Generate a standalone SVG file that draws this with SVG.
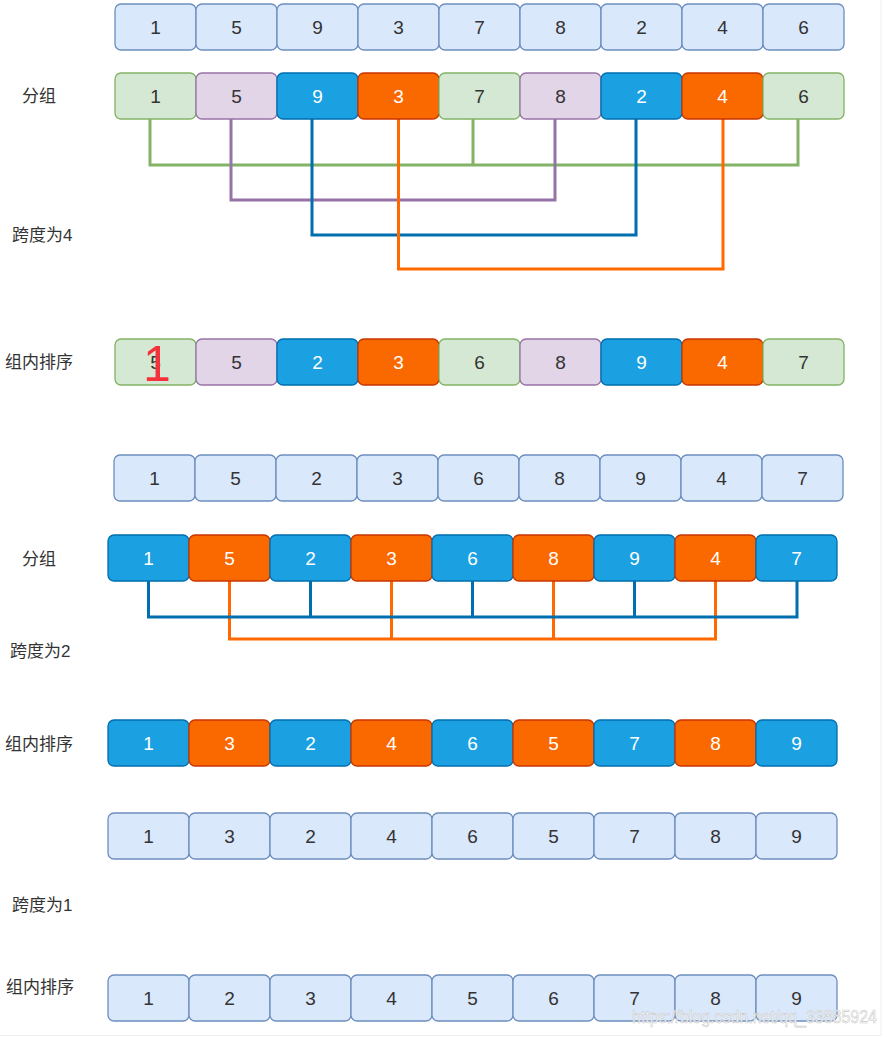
<svg xmlns="http://www.w3.org/2000/svg" width="887" height="1037" viewBox="0 0 887 1037">
<style>
rect.n{width:81px;height:46px;stroke-width:1.3}
.lb{fill:#dae8fc;stroke:#6c8ebf}
.g{fill:#d5e8d4;stroke:#82b366}
.p{fill:#e1d5e7;stroke:#9673a6}
.b{fill:#1ba1e2;stroke:#006eaf}
.o{fill:#fa6800;stroke:#c73500}
text.v{font-family:"Liberation Sans",Arial,sans-serif;font-size:19px;text-anchor:middle;fill:#333}
text.w{fill:#ffffff}
text.lab{font-family:"Liberation Sans","Noto Sans CJK SC",sans-serif;font-size:17px;fill:#333}
.c{fill:none;stroke-width:3}
</style>
<rect width="887" height="1037" fill="#ffffff"/>
<line x1="881" y1="0" x2="881" y2="1036" stroke="#f0f0f0" stroke-width="1"/>
<line x1="0" y1="1035.5" x2="881" y2="1035.5" stroke="#f0f0f0" stroke-width="1"/>

<g id="connectors">
  <path class="c" stroke="#82b366" d="M150,119V165H798V119M473,119V165"/>
  <path class="c" stroke="#9673a6" d="M231,119V200H555V119"/>
  <path class="c" stroke="#006eaf" d="M312,119V235H636V119"/>
  <path class="c" stroke="#ff6a00" d="M398.5,119V269H723V119"/>
  <path class="c" stroke="#ff6a00" d="M229.5,581V639H715.5V581M391.5,581V639M553.5,581V639"/>
  <path class="c" stroke="#006eaf" d="M148.5,581V617H797V581M310.5,581V617M472.5,581V617M634.5,581V617"/>
</g>

<g id="labels">
  <text class="lab" x="22" y="102">分组</text>
  <text class="lab" x="12" y="241">跨度为4</text>
  <text class="lab" x="5" y="368">组内排序</text>
  <text class="lab" x="22" y="565">分组</text>
  <text class="lab" x="10" y="657">跨度为2</text>
  <text class="lab" x="5" y="750">组内排序</text>
  <text class="lab" x="12" y="911">跨度为1</text>
  <text class="lab" x="6" y="993">组内排序</text>
</g>

<g id="row1" transform="translate(115,4)">
  <g id="r1n1"><rect class="n lb" x="0" y="0" rx="6"/><text class="v" x="40.5" y="30">1</text></g>
  <g id="r1n2"><rect class="n lb" x="81" y="0" rx="6"/><text class="v" x="121.5" y="30">5</text></g>
  <g id="r1n3"><rect class="n lb" x="162" y="0" rx="6"/><text class="v" x="202.5" y="30">9</text></g>
  <g id="r1n4"><rect class="n lb" x="243" y="0" rx="6"/><text class="v" x="283.5" y="30">3</text></g>
  <g id="r1n5"><rect class="n lb" x="324" y="0" rx="6"/><text class="v" x="364.5" y="30">7</text></g>
  <g id="r1n6"><rect class="n lb" x="405" y="0" rx="6"/><text class="v" x="445.5" y="30">8</text></g>
  <g id="r1n7"><rect class="n lb" x="486" y="0" rx="6"/><text class="v" x="526.5" y="30">2</text></g>
  <g id="r1n8"><rect class="n lb" x="567" y="0" rx="6"/><text class="v" x="607.5" y="30">4</text></g>
  <g id="r1n9"><rect class="n lb" x="648" y="0" rx="6"/><text class="v" x="688.5" y="30">6</text></g>
</g>

<g id="row2" transform="translate(115,73)">
  <g id="r2n1"><rect class="n g" x="0" y="0" rx="6"/><text class="v" x="40.5" y="30">1</text></g>
  <g id="r2n2"><rect class="n p" x="81" y="0" rx="6"/><text class="v" x="121.5" y="30">5</text></g>
  <g id="r2n3"><rect class="n b" x="162" y="0" rx="6"/><text class="v w" x="202.5" y="30">9</text></g>
  <g id="r2n4"><rect class="n o" x="243" y="0" rx="6"/><text class="v w" x="283.5" y="30">3</text></g>
  <g id="r2n5"><rect class="n g" x="324" y="0" rx="6"/><text class="v" x="364.5" y="30">7</text></g>
  <g id="r2n6"><rect class="n p" x="405" y="0" rx="6"/><text class="v" x="445.5" y="30">8</text></g>
  <g id="r2n7"><rect class="n b" x="486" y="0" rx="6"/><text class="v w" x="526.5" y="30">2</text></g>
  <g id="r2n8"><rect class="n o" x="567" y="0" rx="6"/><text class="v w" x="607.5" y="30">4</text></g>
  <g id="r2n9"><rect class="n g" x="648" y="0" rx="6"/><text class="v" x="688.5" y="30">6</text></g>
</g>

<g id="row3" transform="translate(115,339)">
  <g id="r3n1"><rect class="n g" x="0" y="0" rx="6"/><text class="v" x="40.5" y="30">5</text>
    <text x="28" y="42" font-family="Liberation Sans,Arial,sans-serif" font-size="50" fill="#f5323c">1</text></g>
  <g id="r3n2"><rect class="n p" x="81" y="0" rx="6"/><text class="v" x="121.5" y="30">5</text></g>
  <g id="r3n3"><rect class="n b" x="162" y="0" rx="6"/><text class="v w" x="202.5" y="30">2</text></g>
  <g id="r3n4"><rect class="n o" x="243" y="0" rx="6"/><text class="v w" x="283.5" y="30">3</text></g>
  <g id="r3n5"><rect class="n g" x="324" y="0" rx="6"/><text class="v" x="364.5" y="30">6</text></g>
  <g id="r3n6"><rect class="n p" x="405" y="0" rx="6"/><text class="v" x="445.5" y="30">8</text></g>
  <g id="r3n7"><rect class="n b" x="486" y="0" rx="6"/><text class="v w" x="526.5" y="30">9</text></g>
  <g id="r3n8"><rect class="n o" x="567" y="0" rx="6"/><text class="v w" x="607.5" y="30">4</text></g>
  <g id="r3n9"><rect class="n g" x="648" y="0" rx="6"/><text class="v" x="688.5" y="30">7</text></g>
</g>

<g id="row4" transform="translate(114,455)">
  <g id="r4n1"><rect class="n lb" x="0" y="0" rx="6"/><text class="v" x="40.5" y="30">1</text></g>
  <g id="r4n2"><rect class="n lb" x="81" y="0" rx="6"/><text class="v" x="121.5" y="30">5</text></g>
  <g id="r4n3"><rect class="n lb" x="162" y="0" rx="6"/><text class="v" x="202.5" y="30">2</text></g>
  <g id="r4n4"><rect class="n lb" x="243" y="0" rx="6"/><text class="v" x="283.5" y="30">3</text></g>
  <g id="r4n5"><rect class="n lb" x="324" y="0" rx="6"/><text class="v" x="364.5" y="30">6</text></g>
  <g id="r4n6"><rect class="n lb" x="405" y="0" rx="6"/><text class="v" x="445.5" y="30">8</text></g>
  <g id="r4n7"><rect class="n lb" x="486" y="0" rx="6"/><text class="v" x="526.5" y="30">9</text></g>
  <g id="r4n8"><rect class="n lb" x="567" y="0" rx="6"/><text class="v" x="607.5" y="30">4</text></g>
  <g id="r4n9"><rect class="n lb" x="648" y="0" rx="6"/><text class="v" x="688.5" y="30">7</text></g>
</g>

<g id="row5" transform="translate(108,535)">
  <g id="r5n1"><rect class="n b" x="0" y="0" rx="6"/><text class="v w" x="40.5" y="30">1</text></g>
  <g id="r5n2"><rect class="n o" x="81" y="0" rx="6"/><text class="v w" x="121.5" y="30">5</text></g>
  <g id="r5n3"><rect class="n b" x="162" y="0" rx="6"/><text class="v w" x="202.5" y="30">2</text></g>
  <g id="r5n4"><rect class="n o" x="243" y="0" rx="6"/><text class="v w" x="283.5" y="30">3</text></g>
  <g id="r5n5"><rect class="n b" x="324" y="0" rx="6"/><text class="v w" x="364.5" y="30">6</text></g>
  <g id="r5n6"><rect class="n o" x="405" y="0" rx="6"/><text class="v w" x="445.5" y="30">8</text></g>
  <g id="r5n7"><rect class="n b" x="486" y="0" rx="6"/><text class="v w" x="526.5" y="30">9</text></g>
  <g id="r5n8"><rect class="n o" x="567" y="0" rx="6"/><text class="v w" x="607.5" y="30">4</text></g>
  <g id="r5n9"><rect class="n b" x="648" y="0" rx="6"/><text class="v w" x="688.5" y="30">7</text></g>
</g>

<g id="row6" transform="translate(108,720)">
  <g id="r6n1"><rect class="n b" x="0" y="0" rx="6"/><text class="v w" x="40.5" y="30">1</text></g>
  <g id="r6n2"><rect class="n o" x="81" y="0" rx="6"/><text class="v w" x="121.5" y="30">3</text></g>
  <g id="r6n3"><rect class="n b" x="162" y="0" rx="6"/><text class="v w" x="202.5" y="30">2</text></g>
  <g id="r6n4"><rect class="n o" x="243" y="0" rx="6"/><text class="v w" x="283.5" y="30">4</text></g>
  <g id="r6n5"><rect class="n b" x="324" y="0" rx="6"/><text class="v w" x="364.5" y="30">6</text></g>
  <g id="r6n6"><rect class="n o" x="405" y="0" rx="6"/><text class="v w" x="445.5" y="30">5</text></g>
  <g id="r6n7"><rect class="n b" x="486" y="0" rx="6"/><text class="v w" x="526.5" y="30">7</text></g>
  <g id="r6n8"><rect class="n o" x="567" y="0" rx="6"/><text class="v w" x="607.5" y="30">8</text></g>
  <g id="r6n9"><rect class="n b" x="648" y="0" rx="6"/><text class="v w" x="688.5" y="30">9</text></g>
</g>

<g id="row7" transform="translate(108,813)">
  <g id="r7n1"><rect class="n lb" x="0" y="0" rx="6"/><text class="v" x="40.5" y="30">1</text></g>
  <g id="r7n2"><rect class="n lb" x="81" y="0" rx="6"/><text class="v" x="121.5" y="30">3</text></g>
  <g id="r7n3"><rect class="n lb" x="162" y="0" rx="6"/><text class="v" x="202.5" y="30">2</text></g>
  <g id="r7n4"><rect class="n lb" x="243" y="0" rx="6"/><text class="v" x="283.5" y="30">4</text></g>
  <g id="r7n5"><rect class="n lb" x="324" y="0" rx="6"/><text class="v" x="364.5" y="30">6</text></g>
  <g id="r7n6"><rect class="n lb" x="405" y="0" rx="6"/><text class="v" x="445.5" y="30">5</text></g>
  <g id="r7n7"><rect class="n lb" x="486" y="0" rx="6"/><text class="v" x="526.5" y="30">7</text></g>
  <g id="r7n8"><rect class="n lb" x="567" y="0" rx="6"/><text class="v" x="607.5" y="30">8</text></g>
  <g id="r7n9"><rect class="n lb" x="648" y="0" rx="6"/><text class="v" x="688.5" y="30">9</text></g>
</g>

<g id="row8" transform="translate(108,975)">
  <g id="r8n1"><rect class="n lb" x="0" y="0" rx="6"/><text class="v" x="40.5" y="30">1</text></g>
  <g id="r8n2"><rect class="n lb" x="81" y="0" rx="6"/><text class="v" x="121.5" y="30">2</text></g>
  <g id="r8n3"><rect class="n lb" x="162" y="0" rx="6"/><text class="v" x="202.5" y="30">3</text></g>
  <g id="r8n4"><rect class="n lb" x="243" y="0" rx="6"/><text class="v" x="283.5" y="30">4</text></g>
  <g id="r8n5"><rect class="n lb" x="324" y="0" rx="6"/><text class="v" x="364.5" y="30">5</text></g>
  <g id="r8n6"><rect class="n lb" x="405" y="0" rx="6"/><text class="v" x="445.5" y="30">6</text></g>
  <g id="r8n7"><rect class="n lb" x="486" y="0" rx="6"/><text class="v" x="526.5" y="30">7</text></g>
  <g id="r8n8"><rect class="n lb" x="567" y="0" rx="6"/><text class="v" x="607.5" y="30">8</text></g>
  <g id="r8n9"><rect class="n lb" x="648" y="0" rx="6"/><text class="v" x="688.5" y="30">9</text></g>
</g>

<text id="watermark" x="632" y="1023" font-family="Liberation Sans,Arial,sans-serif" font-size="18" textLength="245" lengthAdjust="spacingAndGlyphs" fill="#ffffff" fill-opacity="0.85" stroke="#c8c8c8" stroke-width="0.6">https://blog.csdn.net/qq_33885924</text>
</svg>
